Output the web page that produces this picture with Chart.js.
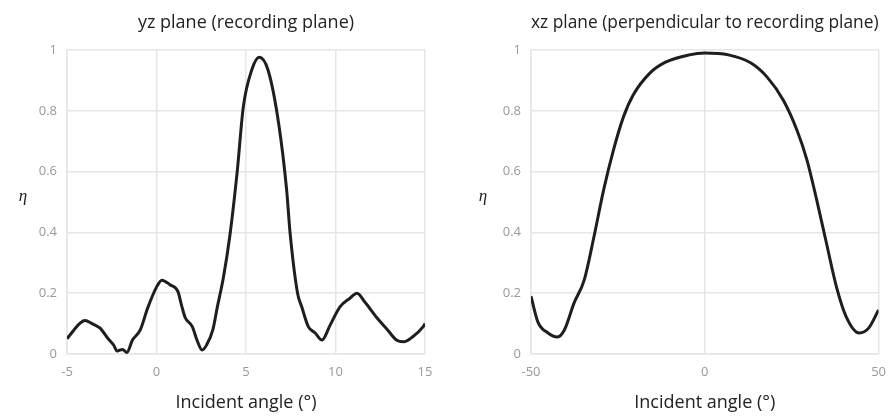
<!DOCTYPE html>
<html>
<head>
<meta charset="utf-8">
<script src="https://cdn.jsdelivr.net/npm/chart.js@4.4.1/dist/chart.umd.min.js"></script>
<style>
  html, body { margin: 0; padding: 0; background: #fff; }
  #wrap { position: relative; width: 896px; height: 417px; }
  .panel { position: absolute; top: 0; width: 448px; height: 417px; }
</style>
</head>
<body>
<div id="wrap">
  <div class="panel" style="left:0"><canvas id="chart-yz"></canvas></div>
  <div class="panel" style="left:448px"><canvas id="chart-xz"></canvas></div>
</div>
<script>
// yz plane: efficiency vs incident angle (deg)
const anguloYZ = [-5.0, -4.6, -4.3, -4.0, -3.6, -3.15, -2.7, -2.4, -2.2, -1.9, -1.65, -1.35, -0.9, -0.5,
  0.0, 0.3, 0.75, 1.2, 1.4, 1.6, 2.0, 2.26, 2.55, 2.8, 3.15, 3.4, 3.73, 4.1, 4.5, 4.85, 5.32, 5.74,
  6.23, 6.82, 7.27, 7.46, 7.88, 8.11, 8.48, 8.85, 9.25, 9.7, 10.25, 10.8, 11.2, 11.65, 12.3, 12.9,
  13.4, 13.8, 14.3, 14.9, 15.0];
const etaYZ = [0.05, 0.08, 0.10, 0.11, 0.10, 0.085, 0.05, 0.03, 0.01, 0.015, 0.005, 0.045, 0.08, 0.15,
  0.22, 0.243, 0.228, 0.205, 0.16, 0.12, 0.09, 0.046, 0.013, 0.03, 0.08, 0.155, 0.249, 0.39, 0.595, 0.813, 0.934, 0.976,
  0.934, 0.76, 0.54, 0.40, 0.20, 0.156, 0.09, 0.07, 0.046, 0.095, 0.155, 0.183, 0.20, 0.17, 0.12, 0.08,
  0.046, 0.04, 0.056, 0.09, 0.10];

// xz plane: efficiency vs incident angle (deg)
const anguloXZ = [-50, -48, -45.2, -42.4, -40.4, -37.6, -34.7, -31.9, -29.1, -26.3, -23.4, -20.6, -15.8,
  -11.3, -4.5, 0, 6.8, 13.3, 18, 22.6, 26.5, 29.4, 32.2, 35, 37.9, 40.7, 44.4, 47.2, 50];
const etaXZ = [0.19, 0.105, 0.07, 0.056, 0.079, 0.168, 0.243, 0.385, 0.54, 0.67, 0.78, 0.852, 0.924,
  0.96, 0.984, 0.99, 0.984, 0.957, 0.91, 0.835, 0.737, 0.638, 0.507, 0.365, 0.22, 0.122, 0.069, 0.086, 0.145];

const ticksY = [0, 0.2, 0.4, 0.6, 0.8, 1];

const fuente = '"Open Sans", "Liberation Sans", sans-serif';
const colorLinea = "#1e1e1e";
const colorRejilla = "#e6e6e6";

// η written upright beside the y axis
const etiquetaEta = {
  id: "etiquetaEta",
  afterDraw(chart, args, opts) {
    const ctx = chart.ctx;
    ctx.save();
    ctx.font = 'italic 17px "Liberation Serif", serif';
    ctx.fillStyle = "#222";
    ctx.textAlign = "center";
    ctx.textBaseline = "middle";
    ctx.fillText("\u03B7", opts.x, (chart.chartArea.top + chart.chartArea.bottom) / 2 - 5);
    ctx.restore();
  },
};

function graficar(canvas, angulos, eta, cfg) {
  const puntos = angulos.map((a, i) => ({ x: a, y: eta[i] }));
  return new Chart(canvas, {
    type: "line",
    data: {
      datasets: [
        {
          data: puntos,
          borderColor: colorLinea,
          borderWidth: 3,
          pointRadius: 0,
          cubicInterpolationMode: "monotone",
          fill: false,
        },
      ],
    },
    options: {
      responsive: false,
      animation: false,
      events: [],
      layout: { padding: { left: 0, right: cfg.derecha, top: 0, bottom: 0 } },
      plugins: {
        legend: { display: false },
        tooltip: { enabled: false },
        title: {
          display: true,
          text: cfg.titulo,
          fullSize: false,
          color: "#222",
          font: { family: fuente, size: 18, weight: "normal" },
          padding: { top: 12.5, bottom: 15.9 },
        },
        etiquetaEta: { x: cfg.etaX },
      },
      scales: {
        x: {
          type: "linear",
          min: cfg.min,
          max: cfg.max,
          afterBuildTicks: (s) => { s.ticks = cfg.ticksX.map((v) => ({ value: v })); },
          afterFit: (s) => { s.height = 63; },
          grid: { color: colorRejilla, lineWidth: 1.5, drawTicks: false },
          border: { color: colorRejilla, width: 1.5 },
          ticks: {
            color: "#999",
            padding: 10,
            font: { family: fuente, size: 13 },
            callback: (v) => String(v),
          },
          title: {
            display: true,
            text: "Incident angle (°)",
            color: "#222",
            font: { family: fuente, size: 18 },
            padding: { top: 0, bottom: 3 },
          },
        },
        y: {
          min: 0,
          max: 1,
          afterBuildTicks: (s) => { s.ticks = ticksY.map((v) => ({ value: v })); },
          afterFit: (s) => { s.width = cfg.anchoY; },
          grid: { color: colorRejilla, lineWidth: 1.5, drawTicks: false },
          border: { color: colorRejilla, width: 1.5 },
          ticks: {
            color: "#999",
            padding: 10,
            font: { family: fuente, size: 13 },
            callback: (v) => String(v),
          },
        },
      },
    },
    plugins: [etiquetaEta],
  });
}

function preparar(id) {
  const c = document.getElementById(id);
  c.width = 448;
  c.height = 417;
  c.style.width = "448px";
  c.style.height = "417px";
  return c;
}

graficar(preparar("chart-yz"), anguloYZ, etaYZ, {
  titulo: "yz plane (recording plane)",
  min: -5, max: 15, ticksX: [-5, 0, 5, 10, 15],
  anchoY: 67, derecha: 23, etaX: 23,
});

graficar(preparar("chart-xz"), anguloXZ, etaXZ, {
  titulo: "xz plane (perpendicular to recording plane)",
  min: -50, max: 50, ticksX: [-50, 0, 50],
  anchoY: 83, derecha: 11, etaX: 35,
});
</script>
</body>
</html>
